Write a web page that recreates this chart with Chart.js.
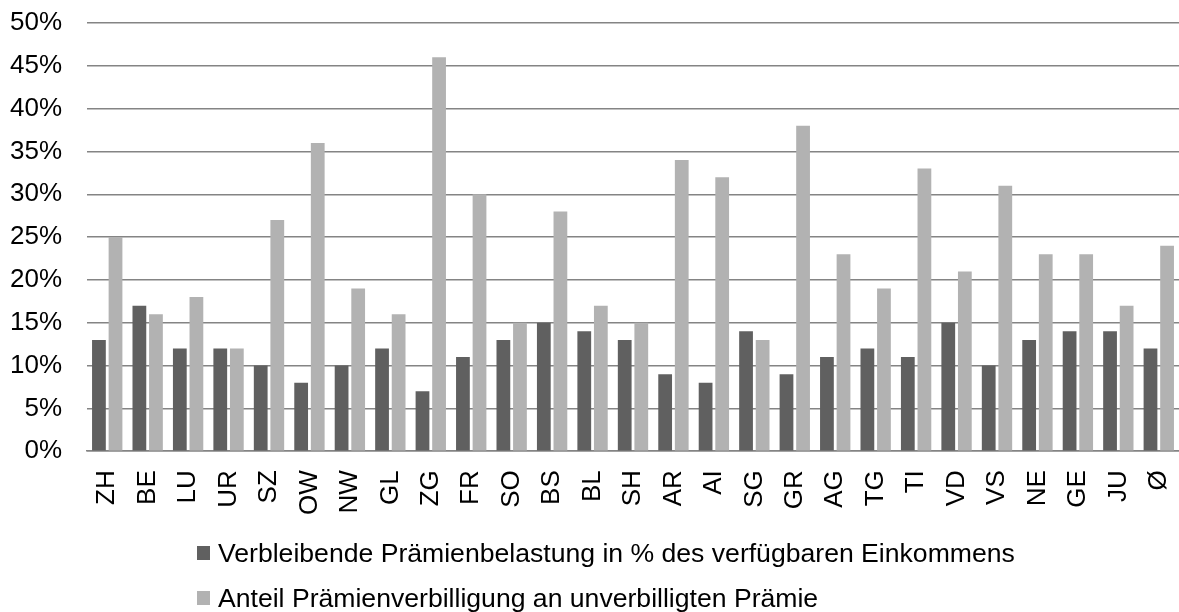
<!DOCTYPE html>
<html lang="de">
<head>
    <meta charset="UTF-8">
    <title>Prämienbelastung und Prämienverbilligung</title>
    <script src="https://cdn.jsdelivr.net/npm/chart.js"></script>
    <style>
        html, body { margin: 0; padding: 0; background: #fff; overflow: hidden; }
        #wrap { position: relative; width: 1179px; height: 612px; }
        #legend { position: absolute; left: 197px; top: 540px; font-family: "Liberation Sans", Arial, sans-serif; font-size: 26.6px; color: #000; }
        #legend div { display: flex; align-items: center; height: 26px; margin-bottom: 19px; white-space: nowrap; }
        #legend span.box { display: inline-block; width: 13px; height: 14px; margin-right: 8px; }
    </style>
</head>
<body>
<div id="wrap">
    <canvas id="chart" width="1179" height="612"></canvas>
    <div id="legend"></div>
</div>
<script>
    const cantons = ['ZH', 'BE', 'LU', 'UR', 'SZ', 'OW', 'NW', 'GL', 'ZG', 'FR', 'SO', 'BS', 'BL', 'SH',
        'AR', 'AI', 'SG', 'GR', 'AG', 'TG', 'TI', 'VD', 'VS', 'NE', 'GE', 'JU', 'Ø'];
    // Verbleibende Prämienbelastung in % des verfügbaren Einkommens
    const belastung = [13, 17, 12, 12, 10, 8, 10, 12, 7, 11, 13, 15, 14, 13,
        9, 8, 14, 9, 11, 12, 11, 15, 10, 13, 14, 14, 12];
    // Anteil Prämienverbilligung an unverbilligten Prämie
    const verbilligung = [25, 16, 18, 12, 27, 36, 19, 16, 46, 30, 15, 28, 17, 15,
        34, 32, 13, 38, 23, 19, 33, 21, 31, 23, 23, 17, 24];
    const yTicks = [0, 5, 10, 15, 20, 25, 30, 35, 40, 45, 50];

    const seriesNames = [
        'Verbleibende Prämienbelastung in % des verfügbaren Einkommens',
        'Anteil Prämienverbilligung an unverbilligten Prämie'
    ];
    const colors = ['#606060', '#b2b2b2'];

    const font = { family: '"Liberation Sans", Arial, sans-serif', size: 26 };

    // drop the extra room chart.js keeps for the end labels
    const noEdgePadding = s => {
        s.paddingLeft = 0; s.paddingRight = 0; s.paddingTop = 0; s.paddingBottom = 0;
    };

    const chart = new Chart(document.getElementById('chart'), {
        type: 'bar',
        data: {
            labels: cantons,
            datasets: [
                { label: seriesNames[0], data: belastung, backgroundColor: colors[0] },
                { label: seriesNames[1], data: verbilligung, backgroundColor: colors[1] }
            ]
        },
        options: {
            responsive: false,
            animation: false,
            categoryPercentage: 0.82,
            barPercentage: 0.83,
            layout: { padding: { left: 10, right: 0, top: 23, bottom: 78 } },
            plugins: {
                legend: { display: false },
                tooltip: { enabled: false }
            },
            scales: {
                x: {
                    afterFit: noEdgePadding,
                    grid: { display: false, drawTicks: false },
                    border: { display: true, color: '#848484', width: 1.5 },
                    ticks: {
                        color: '#000',
                        font: font,
                        minRotation: 90,
                        maxRotation: 90,
                        autoSkip: false,
                        padding: 19
                    }
                },
                y: {
                    min: 0,
                    max: 50,
                    afterFit: s => { noEdgePadding(s); s.width = 77; },
                    afterBuildTicks: axis => { axis.ticks = yTicks.map(v => ({ value: v })); },
                    grid: { color: '#848484', lineWidth: 1.5, drawTicks: false },
                    border: { display: false },
                    ticks: {
                        color: '#000',
                        font: font,
                        padding: 25,
                        callback: v => v + '%'
                    }
                }
            }
        }
    });

    const legend = document.getElementById('legend');
    seriesNames.forEach((name, i) => {
        const row = document.createElement('div');
        const box = document.createElement('span');
        box.className = 'box';
        box.style.background = colors[i];
        row.appendChild(box);
        row.appendChild(document.createTextNode(name));
        legend.appendChild(row);
    });
</script>
</body>
</html>
